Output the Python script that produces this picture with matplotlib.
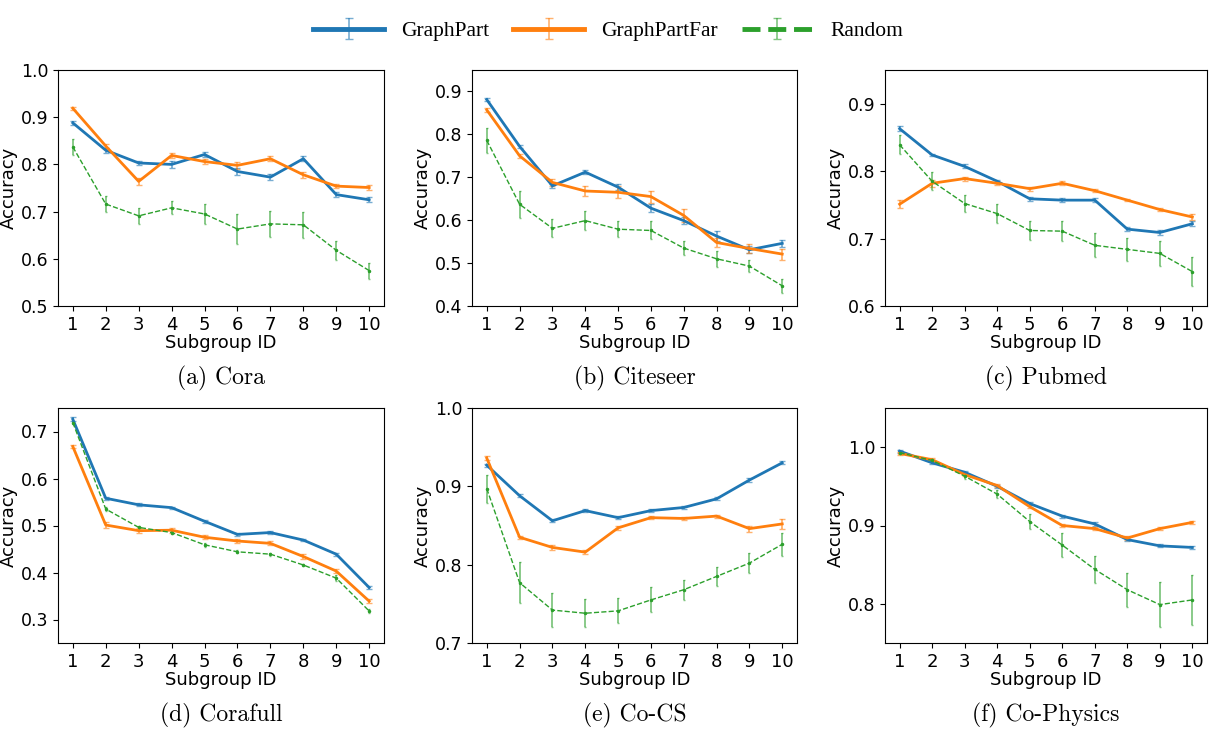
import numpy as np
import matplotlib
matplotlib.use("Agg")
import matplotlib.pyplot as plt

subgroups = list(range(1, 11))

captions = ["(a) Cora", "(b) Citeseer", "(c) Pubmed",
            "(d) Corafull", "(e) Co-CS", "(f) Co-Physics"]

# Cora
cora_gp = [0.888, 0.830, 0.803, 0.800, 0.821, 0.785, 0.773, 0.812, 0.736, 0.725]
cora_gp_err = [0.004, 0.005, 0.005, 0.007, 0.005, 0.007, 0.006, 0.005, 0.005, 0.005]
cora_far = [0.919, 0.839, 0.764, 0.819, 0.806, 0.798, 0.812, 0.778, 0.754, 0.751]
cora_far_err = [0.003, 0.005, 0.007, 0.006, 0.005, 0.007, 0.005, 0.006, 0.005, 0.005]
cora_rand = [0.837, 0.716, 0.691, 0.708, 0.695, 0.663, 0.674, 0.672, 0.618, 0.575]
cora_rand_err = [0.017, 0.016, 0.017, 0.014, 0.022, 0.031, 0.027, 0.027, 0.020, 0.017]

# Citeseer
cite_gp = [0.881, 0.772, 0.680, 0.712, 0.677, 0.628, 0.599, 0.563, 0.531, 0.546]
cite_gp_err = [0.003, 0.004, 0.005, 0.004, 0.007, 0.009, 0.008, 0.011, 0.008, 0.008]
cite_far = [0.857, 0.750, 0.688, 0.668, 0.665, 0.655, 0.611, 0.548, 0.534, 0.521]
cite_far_err = [0.004, 0.005, 0.009, 0.011, 0.014, 0.014, 0.015, 0.011, 0.010, 0.013]
cite_rand = [0.786, 0.637, 0.581, 0.599, 0.579, 0.576, 0.535, 0.510, 0.493, 0.447]
cite_rand_err = [0.029, 0.031, 0.021, 0.022, 0.018, 0.021, 0.016, 0.018, 0.014, 0.016]

# Pubmed
pub_gp = [0.863, 0.824, 0.807, 0.785, 0.759, 0.757, 0.757, 0.714, 0.709, 0.722]
pub_gp_err = [0.004, 0.002, 0.003, 0.002, 0.003, 0.003, 0.003, 0.003, 0.003, 0.004]
pub_far = [0.751, 0.782, 0.789, 0.782, 0.774, 0.782, 0.771, 0.757, 0.743, 0.732]
pub_far_err = [0.006, 0.005, 0.003, 0.002, 0.003, 0.003, 0.002, 0.002, 0.002, 0.004]
pub_rand = [0.839, 0.785, 0.752, 0.737, 0.712, 0.711, 0.690, 0.684, 0.678, 0.651]
pub_rand_err = [0.014, 0.013, 0.012, 0.014, 0.014, 0.015, 0.018, 0.017, 0.019, 0.022]

# Corafull
cfull_gp = [0.726, 0.558, 0.544, 0.538, 0.509, 0.481, 0.485, 0.469, 0.439, 0.368]
cfull_gp_err = [0.004, 0.003, 0.003, 0.002, 0.003, 0.003, 0.004, 0.003, 0.003, 0.004]
cfull_far = [0.668, 0.501, 0.489, 0.490, 0.475, 0.467, 0.462, 0.434, 0.403, 0.339]
cfull_far_err = [0.004, 0.006, 0.005, 0.005, 0.004, 0.004, 0.004, 0.005, 0.004, 0.004]
cfull_rand = [0.719, 0.535, 0.496, 0.485, 0.459, 0.444, 0.439, 0.416, 0.388, 0.318]
cfull_rand_err = [0.004, 0.005, 0.004, 0.004, 0.004, 0.003, 0.003, 0.003, 0.006, 0.005]

# Co-CS
cs_gp = [0.927, 0.888, 0.856, 0.869, 0.860, 0.869, 0.873, 0.884, 0.908, 0.930]
cs_gp_err = [0.002, 0.002, 0.002, 0.002, 0.002, 0.002, 0.002, 0.002, 0.003, 0.002]
cs_far = [0.936, 0.835, 0.822, 0.816, 0.847, 0.860, 0.859, 0.862, 0.846, 0.852]
cs_far_err = [0.003, 0.002, 0.003, 0.003, 0.003, 0.002, 0.002, 0.002, 0.004, 0.006]
cs_rand = [0.897, 0.777, 0.742, 0.738, 0.741, 0.755, 0.768, 0.785, 0.802, 0.826]
cs_rand_err = [0.018, 0.026, 0.022, 0.018, 0.016, 0.016, 0.013, 0.012, 0.013, 0.015]

# Co-Physics
phy_gp = [0.995, 0.980, 0.968, 0.950, 0.928, 0.912, 0.902, 0.882, 0.874, 0.872]
phy_gp_err = [0.002, 0.002, 0.002, 0.002, 0.002, 0.002, 0.002, 0.002, 0.002, 0.002]
phy_far = [0.992, 0.984, 0.965, 0.951, 0.924, 0.900, 0.896, 0.884, 0.896, 0.904]
phy_far_err = [0.002, 0.002, 0.002, 0.002, 0.002, 0.002, 0.002, 0.002, 0.002, 0.002]
phy_rand = [0.993, 0.983, 0.963, 0.940, 0.905, 0.875, 0.844, 0.818, 0.799, 0.805]
phy_rand_err = [0.002, 0.002, 0.003, 0.005, 0.010, 0.015, 0.017, 0.022, 0.029, 0.032]

panels = [
    (cora_gp, cora_gp_err, cora_far, cora_far_err, cora_rand, cora_rand_err),
    (cite_gp, cite_gp_err, cite_far, cite_far_err, cite_rand, cite_rand_err),
    (pub_gp, pub_gp_err, pub_far, pub_far_err, pub_rand, pub_rand_err),
    (cfull_gp, cfull_gp_err, cfull_far, cfull_far_err, cfull_rand, cfull_rand_err),
    (cs_gp, cs_gp_err, cs_far, cs_far_err, cs_rand, cs_rand_err),
    (phy_gp, phy_gp_err, phy_far, phy_far_err, phy_rand, phy_rand_err),
]

ylims = [(0.5, 1.0), (0.4, 0.95), (0.6, 0.95), (0.25, 0.75), (0.7, 1.0), (0.75, 1.05)]
yticks = [
    [0.5, 0.6, 0.7, 0.8, 0.9, 1.0],
    [0.4, 0.5, 0.6, 0.7, 0.8, 0.9],
    [0.6, 0.7, 0.8, 0.9],
    [0.3, 0.4, 0.5, 0.6, 0.7],
    [0.7, 0.8, 0.9, 1.0],
    [0.8, 0.9, 1.0],
]

# axes boxes in pixels: left, right, top, bottom
W, H = 1209, 730
col_x = [(58, 384), (472, 797), (885, 1207)]
row_y = [(70, 306), (408, 643)]

fig = plt.figure(figsize=(W / 100, H / 100), dpi=100)

blue, orange, green = "#1f77b4", "#ff7f0e", "#2ca02c"


def soften(container):
    # error bars are drawn lighter than the lines
    for coll in container.lines[2]:
        coll.set_alpha(0.6)
    for cap in container.lines[1]:
        cap.set_alpha(0.6)


for k, data in enumerate(panels):
    r, c = divmod(k, 3)
    x0, x1 = col_x[c]
    yt, yb = row_y[r]
    ax = fig.add_axes([x0 / W, 1 - yb / H, (x1 - x0) / W, (yb - yt) / H])
    gp, gp_e, far, far_e, rnd, rnd_e = data

    soften(ax.errorbar(subgroups, gp, yerr=gp_e, color=blue, lw=2,
                       elinewidth=1.3, capsize=2))
    soften(ax.errorbar(subgroups, far, yerr=far_e, color=orange, lw=2,
                       elinewidth=1.3, capsize=2))
    soften(ax.errorbar(subgroups, rnd, yerr=rnd_e, color=green, lw=1,
                       ls="--", marker=".", ms=3, elinewidth=1.3, capsize=1))

    ax.set_ylim(*ylims[k])
    ax.set_yticks(yticks[k])
    ax.set_xticks(subgroups)
    ax.tick_params(axis="x", labelsize=13)
    ax.tick_params(axis="y", labelsize=12.5)
    ax.set_xlabel("Subgroup ID", fontsize=13, labelpad=0)
    ax.set_ylabel("Accuracy", fontsize=13, labelpad=2)

    fig.text((x0 + x1) / 2 / W, 1 - (yb + 72) / H, captions[k],
             ha="center", va="center", fontsize=17, family="cmr10")

# proxy handles with thicker lines for the legend
proxy_ax = fig.add_axes([0, 0, 0.01, 0.01])
proxy_ax.set_visible(False)
handles = []
for col, ls in [(blue, "-"), (orange, "-"), (green, "--")]:
    h = proxy_ax.errorbar([0], [0], yerr=[1], color=col, lw=3.5, ls=ls,
                          elinewidth=1.2, capsize=3)
    soften(h)
    handles.append(h)

leg = fig.legend(handles, ["GraphPart", "GraphPartFar", "Random"],
                 loc="center", bbox_to_anchor=(608 / W, 1 - 31 / H), ncol=3,
                 frameon=False, handlelength=3.3, columnspacing=1.1,
                 prop={"family": "Liberation Serif", "size": 15.5})

fig.savefig("out.png", dpi=100)
